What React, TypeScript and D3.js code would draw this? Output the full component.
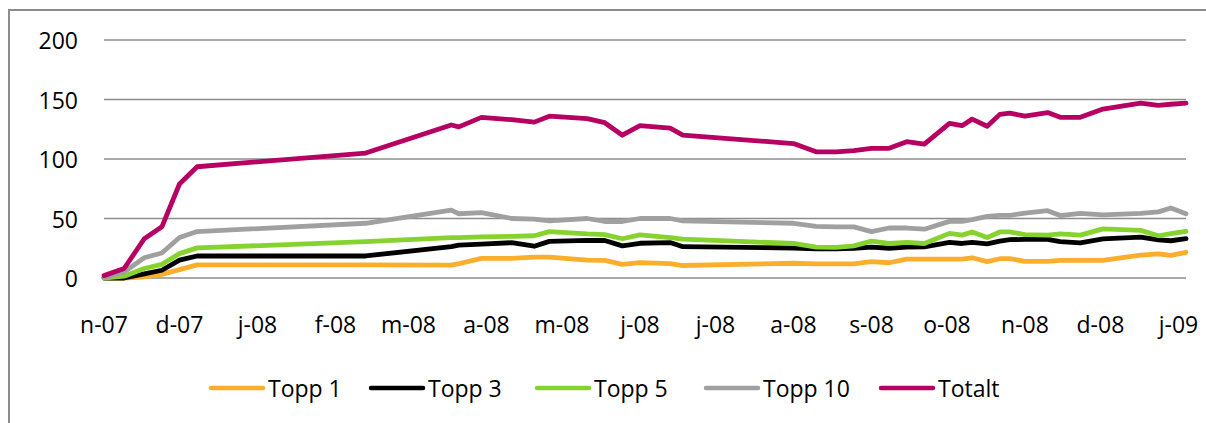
import React from "react";
import * as d3 from "d3";

const dates = [
  "2007-11-01", "2007-11-09", "2007-11-17", "2007-11-24", "2007-12-01", "2007-12-08",
  "2008-02-13", "2008-03-18", "2008-03-21", "2008-03-30", "2008-04-11", "2008-04-20",
  "2008-04-26", "2008-05-11", "2008-05-18", "2008-05-25", "2008-06-01", "2008-06-13",
  "2008-06-18", "2008-08-01", "2008-08-10", "2008-08-18", "2008-08-25", "2008-09-01",
  "2008-09-08", "2008-09-15", "2008-09-22", "2008-10-02", "2008-10-07", "2008-10-11",
  "2008-10-17", "2008-10-22", "2008-10-26", "2008-11-01", "2008-11-10", "2008-11-15",
  "2008-11-23", "2008-12-02", "2008-12-17", "2008-12-24", "2008-12-29", "2009-01-04",
];

const topp1 = [0, 0, 1, 3, 7, 11, 11, 10.8, 12, 16.5, 16.5, 17.5, 17.6, 15, 14.8, 11.5, 12.9, 12, 10.5, 12.4, 11.8, 11.8, 11.8, 13.8, 12.8, 15.8, 15.8, 15.8, 15.8, 17, 13.7, 16.2, 16.2, 14, 14, 14.8, 14.8, 14.8, 19.3, 20.3, 19, 21.6];
const topp3 = [0, 0, 3.5, 6.5, 15, 18.5, 18.5, 26.3, 27.7, 28.5, 29.7, 26.7, 30.8, 31.6, 31.5, 27, 29.2, 29.8, 26.3, 25.2, 24.4, 24.6, 25, 26, 25, 26, 26.2, 30, 29, 30, 28.7, 31, 32.2, 32.5, 32.5, 30.5, 29.6, 32.9, 34.3, 32, 31.3, 33];
const topp5 = [0, 1.5, 8, 11.5, 20.5, 25.3, 30.5, 34, 34, 34.5, 35, 35.5, 39, 37, 36.5, 33, 36.2, 34, 32.7, 29, 26, 25.8, 27, 31, 29, 30, 29, 37.5, 36, 38.7, 34, 38.7, 38.7, 36.4, 36, 37, 36, 41.3, 40, 35.5, 37.3, 39.2];
const topp10 = [0, 5, 17, 21, 34, 39, 46, 57, 54, 55, 50, 49.5, 48, 50, 47.5, 47.5, 50, 50, 48, 46, 43.4, 43, 43, 39, 42, 42, 41, 47.6, 47.6, 49, 51.8, 52.6, 52.6, 54.6, 56.6, 52.5, 54.3, 53, 54.3, 55.6, 58.8, 54];
const totalt = [2, 8, 33, 43, 79, 93.5, 105, 128.6, 127, 135, 133, 131, 136, 134, 130.5, 120, 128, 126, 120, 113, 106, 106, 107, 109, 109, 114.5, 112.5, 130, 128, 133.5, 127.5, 137.5, 138.5, 136, 139, 135, 135, 142, 147, 145, 146, 147];

const seriesNames = ["Topp 1", "Topp 3", "Topp 5", "Topp 10", "Totalt"];
const seriesColors = ["#FBAE2C", "#000000", "#86D32F", "#A0A0A0", "#B60062"];
const seriesValues = [topp1, topp3, topp5, topp10, totalt];

const yTicks = [0, 50, 100, 150, 200];
const xTickLabels = ["n-07", "d-07", "j-08", "f-08", "m-08", "a-08", "m-08", "j-08", "j-08", "a-08", "s-08", "o-08", "n-08", "d-08", "j-09"];

const W = 1206;
const H = 423;
const FONT = "'Open Sans', sans-serif";

export default function App() {
  const parse = d3.utcParse("%Y-%m-%d");
  const xs = dates.map((d) => parse(d) as Date);
  const x = d3.scaleUtc().domain([xs[0], xs[xs.length - 1]]).range([104, 1186]);
  const y = d3.scaleLinear().domain([0, 200]).range([278, 40]);
  const monthTicks = d3.utcMonth.range(xs[0], d3.utcDay.offset(xs[xs.length - 1], 1));

  const line = d3
    .line<number>()
    .x((_, i) => x(xs[i]))
    .y((v) => y(v));

  const legendX = [211, 371, 537, 706, 881];

  return (
    <svg
      width={W}
      height={H}
      style={{ position: "absolute", left: 0, top: 0, background: "#fff" }}
    >
      <rect x={0} y={0} width={W} height={H} fill="#fff" />
      <rect x={9} y={10} width={1220} height={430} fill="none" stroke="#8c8c8c" strokeWidth={2} />
      {yTicks.map((t) => (
        <g key={t}>
          <line x1={104} x2={1186} y1={y(t)} y2={y(t)} stroke="#8c8c8c" strokeWidth={1.6} />
          <text
            x={78}
            y={y(t)}
            textAnchor="end"
            dominantBaseline="central"
            fontFamily={FONT}
            fontSize={23}
            fill="#000"
          >
            {t}
          </text>
        </g>
      ))}
      {monthTicks.map((m, i) => (
        <text
          key={i}
          x={x(m)}
          y={333}
          textAnchor="middle"
          fontFamily={FONT}
          fontSize={23}
          fill="#000"
        >
          {xTickLabels[i]}
        </text>
      ))}
      {seriesValues.map((vals, si) => (
        <path
          key={si}
          d={line(vals) || ""}
          fill="none"
          stroke={seriesColors[si]}
          strokeWidth={4.8}
          strokeLinejoin="round"
          strokeLinecap="round"
        />
      ))}
      {seriesNames.map((n, i) => (
        <g key={n}>
          <line
            x1={legendX[i]}
            x2={legendX[i] + 52}
            y1={388}
            y2={388}
            stroke={seriesColors[i]}
            strokeWidth={4.5}
            strokeLinecap="round"
          />
          <text
            x={legendX[i] + 57}
            y={388}
            dominantBaseline="central"
            fontFamily={FONT}
            fontSize={23}
            fill="#000"
          >
            {n}
          </text>
        </g>
      ))}
    </svg>
  );
}
